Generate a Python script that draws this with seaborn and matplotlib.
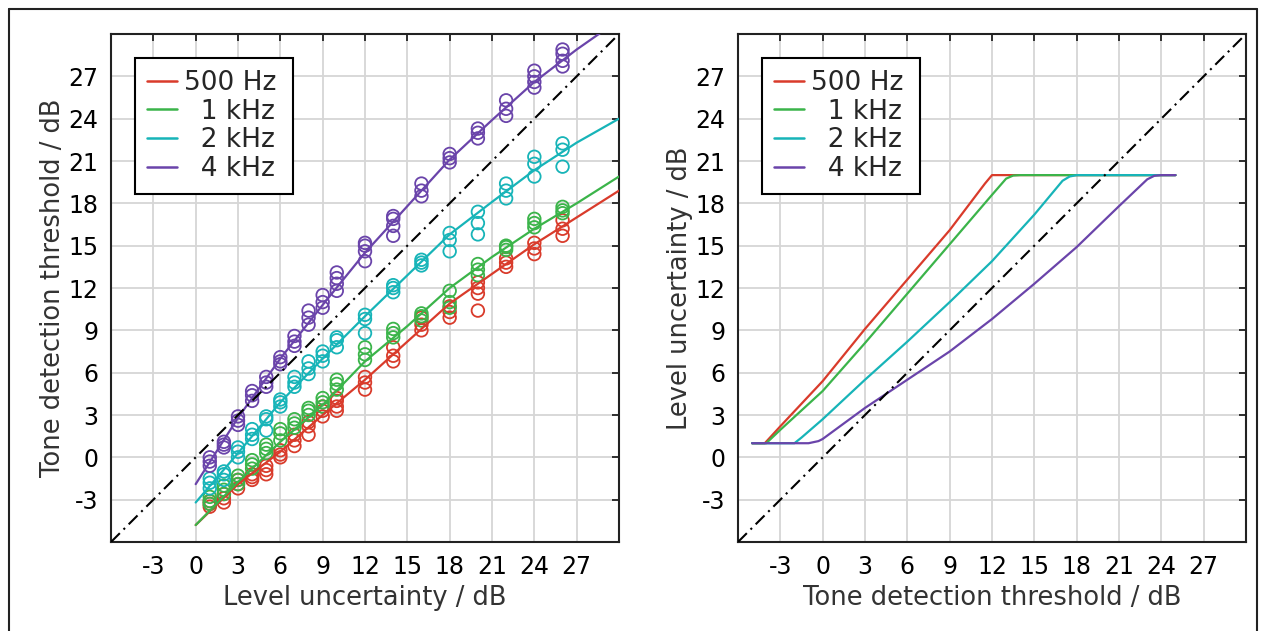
import numpy as np
import pandas as pd
import matplotlib
matplotlib.use("Agg")
import matplotlib.pyplot as plt
from matplotlib.lines import Line2D
import seaborn as sns

# ---- data -----------------------------------------------------------------
freqs = ["500 Hz", "1 kHz", "2 kHz", "4 kHz"]
legend_labels = ["500 Hz\u2009", "\u20071 kHz\u2009", "\u20072 kHz\u2009", "\u20074 kHz\u2009"]
colors = ["#d93b2b", "#3bb44a", "#17b4b8", "#6a44aa"]

# measured level uncertainty conditions (dB)
unc_levels = [1, 2, 3, 4, 5, 6, 7, 8, 9, 10, 12, 14, 16, 18, 20, 22, 24, 26]

# individual thresholds per condition (dB)
thr_500 = [[-3.5, -3.1, -3.3], [-2.9, -2.6, -3.2], [-1.9, -2.2, -1.6],
           [-1.4, -1.2, -1.6], [-0.9, -0.6, -1.2], [0.2, 0.0, 0.5],
           [1.2, 0.8, 1.6], [1.6, 2.2, 2.5], [2.9, 3.3, 3.6],
           [3.6, 3.3, 4.2, 4.0], [4.8, 5.3, 5.7], [6.8, 7.2, 7.8],
           [9.0, 9.4, 9.9], [9.9, 10.3, 10.7], [10.4, 11.6, 12.0, 12.4],
           [13.5, 13.8, 14.1], [14.4, 14.8, 15.2], [15.7, 16.2, 16.8]]
thr_1k = [[-3.1, -2.8, -3.3], [-2.6, -2.3, -2.0], [-1.6, -1.3, -1.9],
          [-0.5, -0.2, -0.8], [0.3, 0.6, 0.9], [1.2, 1.7, 2.0],
          [2.4, 2.1, 2.7], [3.0, 3.3, 3.5], [3.6, 3.9, 4.2],
          [4.8, 5.2, 5.5], [6.9, 7.3, 7.8], [8.5, 8.8, 9.1],
          [9.7, 10.0, 10.2], [10.6, 11.0, 11.8], [12.9, 13.3, 13.7],
          [14.7, 14.9, 15.0], [16.3, 16.6, 16.9], [17.3, 17.5, 17.75]]
thr_2k = [[-1.8, -1.5, -2.2], [-1.2, -1.6, -1.0], [0.4, 0.0, 0.7],
          [1.6, 2.0, 1.3], [2.9, 2.7, 1.9], [3.6, 3.9, 4.1],
          [5.0, 5.3, 5.7], [5.9, 6.3, 6.8], [6.8, 7.2, 7.5],
          [7.8, 8.3, 8.5], [8.8, 9.8, 10.1], [11.7, 12.0, 12.2],
          [13.6, 13.8, 14.0], [14.6, 15.4, 15.9], [15.8, 16.6, 17.4],
          [18.35, 18.9, 19.4], [19.9, 20.8, 21.3], [20.6, 21.8, 22.25]]
thr_4k = [[-0.3, -0.6, 0.0], [0.7, 0.9, 1.1], [2.3, 2.6, 2.9],
          [4.0, 4.4, 4.7], [5.0, 5.3, 5.7], [6.6, 6.8, 7.1],
          [7.9, 8.2, 8.6], [9.4, 9.9, 10.4], [10.6, 11.0, 11.5],
          [11.8, 12.3, 12.7, 13.1], [13.9, 14.6, 15.0, 15.2],
          [15.7, 16.4, 16.9, 17.1], [18.5, 18.9, 19.4], [20.9, 21.2, 21.5],
          [22.6, 23.0, 23.3], [24.2, 24.7, 25.3], [26.2, 26.6, 27.0, 27.4],
          [27.7, 28.1, 28.6, 28.9]]

# fitted threshold functions
fit_unc = [0, 3, 6, 9, 12, 15, 18, 21, 24, 27, 30]
fit_500 = [-4.8, -1.9, 0.4, 3.0, 5.5, 8.2, 10.9, 13.0, 15.1, 17.0, 18.9]
fit_1k = [-4.8, -1.75, 1.1, 3.7, 6.8, 9.3, 12.0, 14.2, 16.2, 18.0, 19.9]
fit_2k = [-3.2, 0.3, 3.9, 7.0, 10.0, 12.9, 15.8, 18.1, 20.35, 22.3, 24.0]
fit_4k = [-1.9, 2.8, 7.0, 10.8, 14.5, 17.8, 21.1, 23.9, 26.6, 28.9, 31.0]

# inverted model: level uncertainty as a function of threshold
inv_thr_500 = [-5, -4.1, -3, 0, 3, 6, 9, 11.5, 12, 25]
inv_unc_500 = [1, 1, 2.2, 5.4, 9.1, 12.6, 16.1, 19.4, 20, 20]
inv_thr_1k = [-5, -4.0, -3, 0, 3, 6, 9, 12, 13.0, 13.5, 14, 25]
inv_unc_1k = [1, 1, 1.95, 4.7, 8.1, 11.6, 15.1, 18.6, 19.75, 19.97, 20, 20]
inv_thr_2k = [-5, -2.0, -1.5, 0, 3, 6, 9, 12, 15, 17.0, 17.5, 18, 25]
inv_unc_2k = [1, 1, 1.4, 2.7, 5.5, 8.2, 11.0, 13.9, 17.2, 19.6, 19.9, 20, 20]
inv_thr_4k = [-5, -1.0, -0.3, 0, 3, 6, 9, 12, 15, 18, 21, 23.0, 23.5, 24, 25]
inv_unc_4k = [1, 1, 1.15, 1.3, 3.5, 5.5, 7.5, 9.8, 12.3, 14.9, 17.8, 19.7,
              19.95, 20, 20]

ticks = [-3, 0, 3, 6, 9, 12, 15, 18, 21, 24, 27]
lims = (-6, 30)

# ---- tidy tables --------------------------------------------------------------
rows = []
for f, groups in zip(freqs, [thr_500, thr_1k, thr_2k, thr_4k]):
    for u, vals in zip(unc_levels, groups):
        for v in vals:
            rows.append((f, u, v))
points = pd.DataFrame(rows, columns=["freq", "unc", "thr"])

fits = pd.concat([pd.DataFrame({"freq": f, "unc": fit_unc, "thr": y})
                  for f, y in zip(freqs, [fit_500, fit_1k, fit_2k, fit_4k])])

inv = pd.concat([pd.DataFrame({"freq": f, "thr": x, "unc": y})
                 for f, x, y in zip(freqs,
                                    [inv_thr_500, inv_thr_1k, inv_thr_2k, inv_thr_4k],
                                    [inv_unc_500, inv_unc_1k, inv_unc_2k, inv_unc_4k])])

palette = dict(zip(freqs, colors))

# ---- style --------------------------------------------------------------------
sns.set_theme(style="white")
plt.rcParams["font.family"] = ["DejaVu Sans"]
plt.rcParams["axes.unicode_minus"] = False

W, H = 1265, 631
fig = plt.figure(figsize=(W / 100, H / 100), dpi=100)
ax_l = fig.add_axes([111 / W, (H - 542) / H, 508 / W, 508 / H])
ax_r = fig.add_axes([738 / W, (H - 542) / H, 508 / W, 508 / H])

diag_style = dict(color="black", lw=1.5, ls=(0, (6, 2.5, 1, 2.5)), zorder=4)


def style_axes(ax, xlabel, ylabel):
    ax.set_xlim(*lims)
    ax.set_ylim(*lims)
    ax.set_xticks(ticks)
    ax.set_yticks(ticks)
    ax.grid(True, color="#d6d6d6", lw=1.3, zorder=0)
    ax.set_axisbelow(True)
    ax.tick_params(direction="in", length=5, width=1.3, color="#222222",
                   top=True, right=True, labelsize=17, pad=9,
                   labelcolor="black")
    for s in ax.spines.values():
        s.set_color("#222222")
        s.set_linewidth(1.5)
    ax.set_xlabel(xlabel, fontsize=18.5, color="#333333", labelpad=5)
    ax.set_ylabel(ylabel, fontsize=18.5, color="#333333", labelpad=2)
    handles = [Line2D([], [], color=c, lw=1.8) for c in colors]
    leg = ax.legend(handles, legend_labels, loc="upper left",
                    bbox_to_anchor=(24 / 508, 1 - 24 / 508), borderaxespad=0,
                    fontsize=19, handlelength=1.15, handletextpad=0.25,
                    labelspacing=0.1, borderpad=0.45, fancybox=False,
                    frameon=True, framealpha=1, edgecolor="black")
    leg.get_frame().set_linewidth(1.5)
    leg.set_zorder(10)


# left panel: thresholds vs level uncertainty
for f in freqs:
    sub = points[points["freq"] == f]
    sns.scatterplot(data=sub, x="unc", y="thr", ax=ax_l, marker="o", s=82,
                    facecolor="none", edgecolor=palette[f], linewidth=1.3,
                    legend=False, zorder=3)
sns.lineplot(data=fits, x="unc", y="thr", hue="freq", hue_order=freqs,
             palette=palette, estimator=None, sort=False, lw=1.6,
             legend=False, ax=ax_l, zorder=3)
ax_l.plot(lims, lims, **diag_style)
style_axes(ax_l, "Level uncertainty / dB", "Tone detection threshold / dB")

# right panel: level uncertainty vs threshold
sns.lineplot(data=inv, x="thr", y="unc", hue="freq", hue_order=freqs,
             palette=palette, estimator=None, sort=False, units="freq",
             lw=1.6, legend=False, ax=ax_r, zorder=3)
ax_r.plot(lims, lims, **diag_style)
style_axes(ax_r, "Tone detection threshold / dB", "Level uncertainty / dB")

# outer frame
frame_kw = dict(color="#222222", lw=1.5, transform=fig.transFigure)
x0, x1, y0 = 8.5 / W, 1 - 8.5 / W, 1 - 8.5 / H
fig.add_artist(Line2D([x0, x0], [0, y0], **frame_kw))
fig.add_artist(Line2D([x0, x1], [y0, y0], **frame_kw))
fig.add_artist(Line2D([x1, x1], [0, y0], **frame_kw))

fig.savefig("out.png", dpi=100)
